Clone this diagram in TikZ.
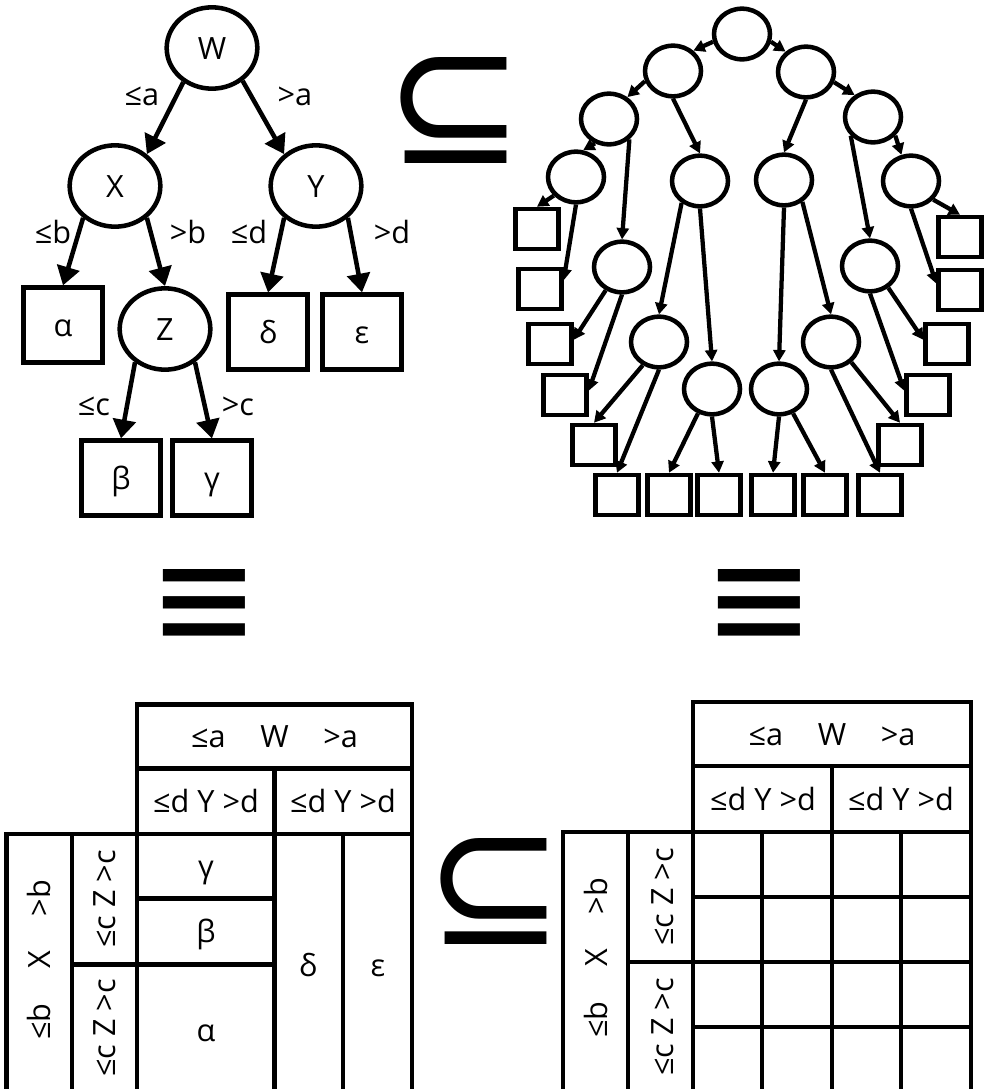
\documentclass[tikz,border=0pt]{standalone}
\usepackage{fontspec}
\setmainfont{Open Sans}
\newfontfamily\symfont{DejaVu Sans}
\usepackage{graphicx}
\usetikzlibrary{shapes.geometric,arrows.meta}
\newcommand\tightglyph[1]{{\symfont\kern-\XeTeXglyphbounds1 \XeTeXcharglyph`#1\relax #1\kern-\XeTeXglyphbounds3 \XeTeXcharglyph`#1\relax}}
\begin{document}
\begin{tikzpicture}[x=0.75pt,y=-0.75pt,
  txt/.style={font=\fontsize{23pt}{27pt}\selectfont, text height=16.5pt, text depth=0pt},
  bignode/.style={txt, ellipse, draw, line width=3.4pt, minimum width=68pt, minimum height=61pt, inner sep=0pt},
  bigleaf/.style={txt, rectangle, draw, line width=3.4pt, minimum width=59pt, minimum height=56pt, inner sep=0pt},
  bigedge/.style={line width=3.4pt, -{Triangle[length=14pt,width=17pt]}},
  lab/.style={txt, inner sep=0pt},
  smnode/.style={ellipse, draw, line width=3.4pt, minimum width=42pt, minimum height=38pt, inner sep=0pt},
  smleaf/.style={rectangle, draw, line width=3.4pt, minimum width=32pt, minimum height=30pt, inner sep=0pt},
  smedge/.style={line width=3.2pt, -{Triangle[length=8.5pt,width=9pt]}},
  grid/.style={line width=3.2pt, line cap=rect},
  sym/.style={inner sep=0pt, outer sep=0pt, anchor=north west},
]
\useasboundingbox (0,0) rectangle (1001,1089);
\clip (0,0) rectangle (1001,1089);

% ---------- left tree ----------
\node[bignode] (W) at (212,48) {W};
\node[bignode] (X) at (115,186) {X};
\node[bignode] (Y) at (316,186) {Y};
\node[bignode] (Z) at (165,329) {Z};
\node[bigleaf] (al) at (63,325) {α};
\node[bigleaf] (de) at (268,332) {δ};
\node[bigleaf] (ep) at (362,332) {ε};
\node[bigleaf] (be) at (121,478) {β};
\node[bigleaf] (ga) at (212,478) {γ};

\draw[bigedge] (W.230) -- (X.45);
\draw[bigedge] (W.-47) -- (Y.135);
\draw[bigedge] (X.225) -- (al.north);
\draw[bigedge] (X.-45) -- (Z.north);
\draw[bigedge] (Y.225) -- (de.north);
\draw[bigedge] (Y.-45) -- (ep.north);
\draw[bigedge] (Z.228) -- (be.north);
\draw[bigedge] (Z.-48) -- (ga.north);

\node[lab] (la1) at (142,94) {≤a};
\node[lab] (la2) at (295,94) {>a};
\node[lab] (lb1) at (53,232) {≤b};
\node[lab] (lb2) at (188,232) {>b};
\node[lab] (ld1) at (249,232) {≤d};
\node[lab] (ld2) at (392,232) {>d};
\node[lab] (lc1) at (94,404) {≤c};
\node[lab] (lc2) at (238,404) {>c};

% ---------- symbols ----------
\node[sym] (sub1) at (401,57) {\resizebox*{79.5pt}{79.5pt}{\tightglyph{⊆}}};
\node[sym] (sub2) at (441,838) {\resizebox*{79.5pt}{79.5pt}{\tightglyph{⊆}}};
\node[sym] (eq1) at (163,569) {\resizebox*{61.5pt}{60pt}{\tightglyph{≡}}};
\node[sym] (eq2) at (718,569) {\resizebox*{61.5pt}{60pt}{\tightglyph{≡}}};

% ---------- right tree ----------
\node[smnode] (r0) at (742,34) {};
\node[smnode] (r1L) at (673,71) {};
\node[smnode] (r1R) at (806,72) {};
\node[smnode] (r2L) at (609,119) {};
\node[smnode] (r2R) at (873,117) {};
\node[smnode] (r3a) at (576,177) {};
\node[smnode] (r3b) at (700,181) {};
\node[smnode] (r3c) at (784,180) {};
\node[smnode] (r3d) at (911,181) {};
\node[smnode] (r4L) at (622,267) {};
\node[smnode] (r4R) at (870,266) {};
\node[smnode] (r5L) at (659,342) {};
\node[smnode] (r5R) at (831,342) {};
\node[smnode] (r6L) at (712,389) {};
\node[smnode] (r6R) at (779,389) {};

\node[smleaf] (bL1) at (537,229) {};
\node[smleaf] (bL2) at (540,289) {};
\node[smleaf] (bL3) at (550,344) {};
\node[smleaf] (bL4) at (565,395) {};
\node[smleaf] (bL5) at (594,445) {};
\node[smleaf] (bR1) at (960,237) {};
\node[smleaf] (bR2) at (960,290) {};
\node[smleaf] (bR3) at (947,344) {};
\node[smleaf] (bR4) at (928,395) {};
\node[smleaf] (bR5) at (900,445) {};
\node[smleaf] (c1) at (617,495) {};
\node[smleaf] (c2) at (669,495) {};
\node[smleaf] (c3) at (719,495) {};
\node[smleaf] (c4) at (773,495) {};
\node[smleaf] (c5) at (825,495) {};
\node[smleaf] (c6) at (880,495) {};

\draw[smedge] (r0.195) -- (r1L.45);
\draw[smedge] (r0.-15) -- (r1R.135);
\draw[smedge] (r1L.200) -- (r2L.50);
\draw[smedge] (r1L.south) -- (r3b.north);
\draw[smedge] (r1R.-20) -- (r2R.130);
\draw[smedge] (r1R.south) -- (r3c.north);
\draw[smedge] (r2L.240) -- (r3a.75);
\draw[smedge] (r2L.-45) -- (r4L.north);
\draw[smedge] (r2R.-40) -- (r3d.110);
\draw[smedge] (r2R.220) -- (r4R.north);
\draw[smedge] (r3a.220) -- (bL1.north);
\draw[smedge] (r3a.south) -- (bL2.20);
\draw[smedge] (r3d.-40) -- (bR1.north);
\draw[smedge] (r3d.south) -- (bR2.165);
\draw[smedge] (r3b.230) -- (r5L.north);
\draw[smedge] (r3b.south) -- (r6L.north);
\draw[smedge] (r3c.-50) -- (r5R.north);
\draw[smedge] (r3c.south) -- (r6R.north);
\draw[smedge] (r4L.235) -- (bL3.10);
\draw[smedge] (r4L.south) -- (bL4.10);
\draw[smedge] (r4R.-50) -- (bR3.170);
\draw[smedge] (r4R.south) -- (bR4.170);
\draw[smedge] (r5L.235) -- (bL5.north);
\draw[smedge] (r5L.south) -- (c1.north);
\draw[smedge] (r5R.-45) -- (bR5.north);
\draw[smedge] (r5R.south) -- (c6.north);
\draw[smedge] (r6L.240) -- (c2.north);
\draw[smedge] (r6L.south) -- (c3.north);
\draw[smedge] (r6R.south) -- (c4.north);
\draw[smedge] (r6R.-60) -- (c5.north);

% ---------- left table ----------
\draw[grid] (137,1100) -- (137,704.5) -- (412,704.5) -- (412,1100);
\draw[grid] (137,768.5) -- (412,768.5);
\draw[grid] (274.5,768.5) -- (274.5,1100);
\draw[grid] (6.5,1100) -- (6.5,834) -- (412,834);
\draw[grid] (72,834) -- (72,1100);
\draw[grid] (343,834) -- (343,1100);
\draw[grid] (137,898.5) -- (274.5,898.5);
\draw[grid] (72,964.5) -- (274.5,964.5);

\node[lab] (tlW) at (274.5,736.5) {≤a\hspace{26pt}W\hspace{26pt}>a};
\node[lab] (tlY1) at (206,801) {≤d Y >d};
\node[lab] (tlY2) at (343,801) {≤d Y >d};
\node[lab, rotate=90] (tlX) at (39,960) {≤b\hspace{26pt}X\hspace{26pt}>b};
\node[lab, rotate=90] (tlZ1) at (104.5,899) {≤c Z >c};
\node[lab, rotate=90] (tlZ2) at (104.5,1028) {≤c Z >c};
\node[lab] (tga) at (206,866) {γ};
\node[lab] (tbe) at (206,931.5) {β};
\node[lab] (tal) at (206,1030) {α};
\node[lab] (tde) at (308,965) {δ};
\node[lab] (tep) at (378,965) {ε};

% ---------- right table ----------
\draw[grid] (693,1100) -- (693,702) -- (971,702) -- (971,1100);
\draw[grid] (693,766) -- (971,766);
\draw[grid] (832,766) -- (832,1100);
\draw[grid] (563,1100) -- (563,832) -- (971,832);
\draw[grid] (628,832) -- (628,1100);
\draw[grid] (762,832) -- (762,1100);
\draw[grid] (901,832) -- (901,1100);
\draw[grid] (693,897) -- (971,897);
\draw[grid] (628,962) -- (971,962);
\draw[grid] (693,1027) -- (971,1027);

\node[lab] (trW) at (832,734) {≤a\hspace{26pt}W\hspace{26pt}>a};
\node[lab] (trY1) at (763,799) {≤d Y >d};
\node[lab] (trY2) at (901,799) {≤d Y >d};
\node[lab, rotate=90] (trX) at (596,958) {≤b\hspace{26pt}X\hspace{26pt}>b};
\node[lab, rotate=90] (trZ1) at (662,897) {≤c Z >c};
\node[lab, rotate=90] (trZ2) at (662,1027) {≤c Z >c};
\end{tikzpicture}
\end{document}
